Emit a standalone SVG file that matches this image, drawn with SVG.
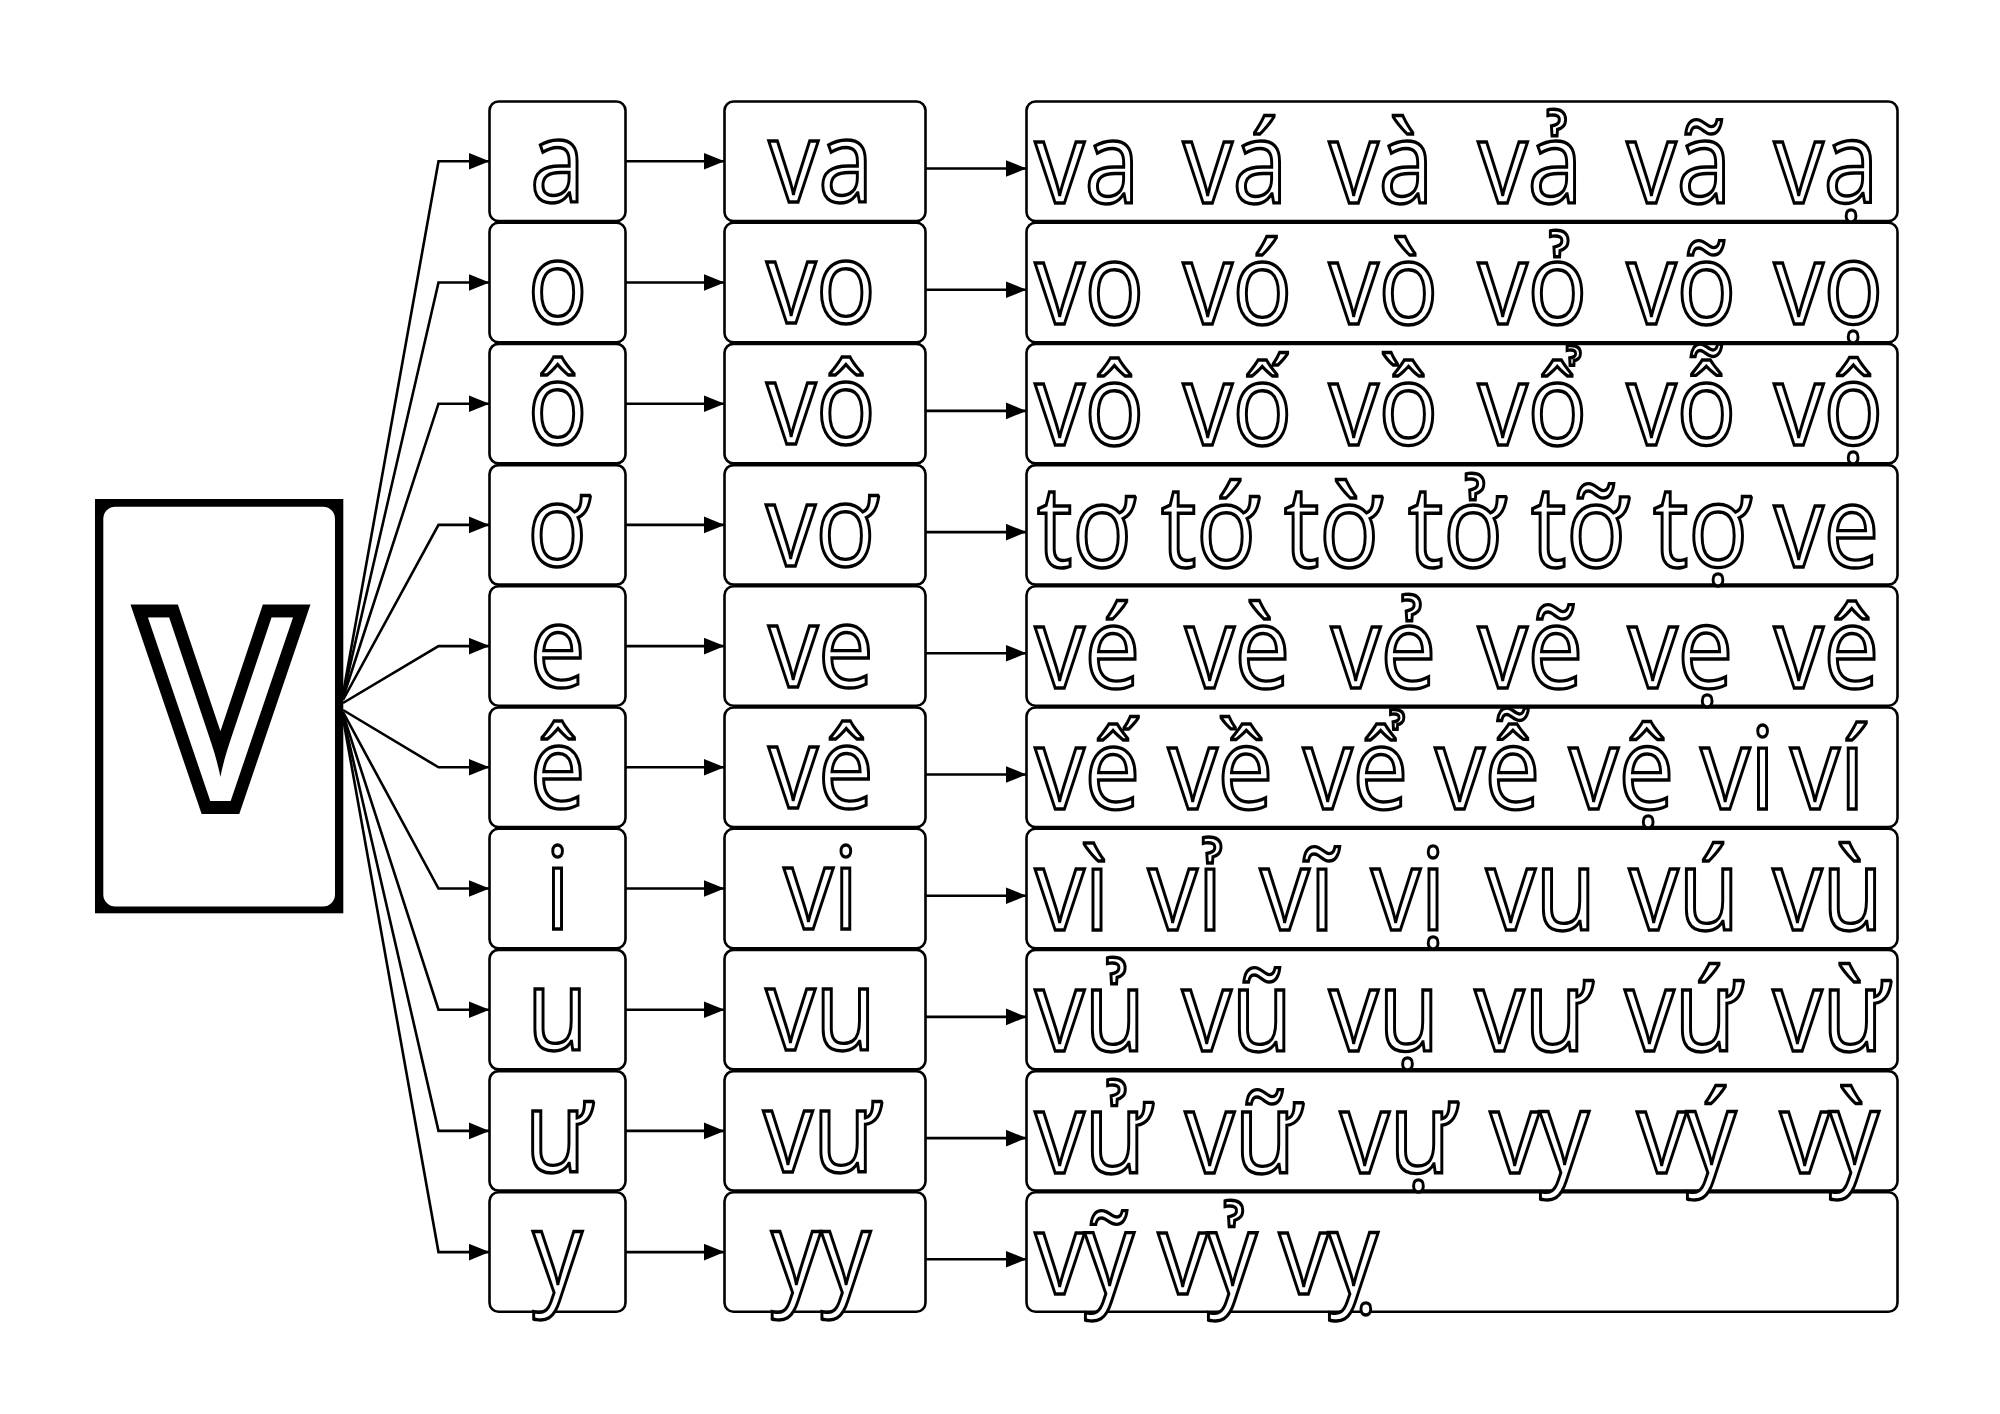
<svg xmlns="http://www.w3.org/2000/svg" width="2000" height="1414" viewBox="0 0 2000 1414">
<style>
.box{fill:#fff;stroke:#000;stroke-width:2.6}
.t{fill:#fff;stroke:#000;stroke-width:3.4;stroke-linejoin:miter;font-family:"Open Sans","Noto Sans",sans-serif;font-size:114px}
.c{text-anchor:middle}
.big{font-size:256px;stroke-width:26px;paint-order:stroke}
.ln{fill:none;stroke:#000;stroke-width:2.6}
</style>
<defs>
<marker id="ah" markerUnits="userSpaceOnUse" markerWidth="22" markerHeight="18" refX="21" refY="8.5" orient="auto" viewBox="0 0 22 18">
<path d="M0,0 L21,8.5 L0,17 Z" fill="#000"/>
</marker>
</defs>
<rect width="2000" height="1414" fill="#fff"/>

<g id="connectors" class="ln" marker-end="url(#ah)">
<path d="M343,694 L438.5,161.3 L489.5,161.3"/>
<path d="M343,696 L438.5,282.5 L489.5,282.5"/>
<path d="M343,698 L438.5,403.7 L489.5,403.7"/>
<path d="M343,700 L438.5,524.9 L489.5,524.9"/>
<path d="M343,703 L438.5,646.1 L489.5,646.1"/>
<path d="M343,710 L438.5,767.3 L489.5,767.3"/>
<path d="M343,712 L438.5,888.5 L489.5,888.5"/>
<path d="M343,714 L438.5,1009.7 L489.5,1009.7"/>
<path d="M343,716 L438.5,1130.9 L489.5,1130.9"/>
<path d="M343,718 L438.5,1252.1 L489.5,1252.1"/>
<path d="M625.5,161.3 L724.5,161.3"/>
<path d="M625.5,282.5 L724.5,282.5"/>
<path d="M625.5,403.7 L724.5,403.7"/>
<path d="M625.5,524.9 L724.5,524.9"/>
<path d="M625.5,646.1 L724.5,646.1"/>
<path d="M625.5,767.3 L724.5,767.3"/>
<path d="M625.5,888.5 L724.5,888.5"/>
<path d="M625.5,1009.7 L724.5,1009.7"/>
<path d="M625.5,1130.9 L724.5,1130.9"/>
<path d="M625.5,1252.1 L724.5,1252.1"/>
<path d="M925.5,168.5 L1026.5,168.5"/>
<path d="M925.5,289.7 L1026.5,289.7"/>
<path d="M925.5,410.9 L1026.5,410.9"/>
<path d="M925.5,532.1 L1026.5,532.1"/>
<path d="M925.5,653.3 L1026.5,653.3"/>
<path d="M925.5,774.5 L1026.5,774.5"/>
<path d="M925.5,895.7 L1026.5,895.7"/>
<path d="M925.5,1016.9 L1026.5,1016.9"/>
<path d="M925.5,1138.1 L1026.5,1138.1"/>
<path d="M925.5,1259.3 L1026.5,1259.3"/>
</g>

<g id="node-V">
<rect x="95" y="499" width="248.3" height="414.3" fill="#000"/>
<rect x="103.3" y="506.8" width="231.7" height="399.7" rx="12" fill="#fff"/>
<text class="t big" x="220.6" y="801" text-anchor="middle" transform="matrix(0.95 0 0 1 11.03 0)">V</text>
</g>

<g id="col1">
<g id="n-a"><rect class="box" x="489.5" y="101.5" width="136" height="119.5" rx="9"/></g>
<g id="n-o"><rect class="box" x="489.5" y="222.7" width="136" height="119.5" rx="9"/></g>
<g id="n-o2"><rect class="box" x="489.5" y="343.9" width="136" height="119.5" rx="9"/></g>
<g id="n-o3"><rect class="box" x="489.5" y="465.1" width="136" height="119.5" rx="9"/></g>
<g id="n-e"><rect class="box" x="489.5" y="586.3" width="136" height="119.5" rx="9"/></g>
<g id="n-e2"><rect class="box" x="489.5" y="707.5" width="136" height="119.5" rx="9"/></g>
<g id="n-i"><rect class="box" x="489.5" y="828.7" width="136" height="119.5" rx="9"/></g>
<g id="n-u"><rect class="box" x="489.5" y="949.9" width="136" height="119.5" rx="9"/></g>
<g id="n-u2"><rect class="box" x="489.5" y="1071.1" width="136" height="119.5" rx="9"/></g>
<g id="n-y"><rect class="box" x="489.5" y="1192.3" width="136" height="119.5" rx="9"/></g>
<g transform="matrix(0.87 0 0 1 72.5 0)">
<text class="t c" x="557.5" y="202">a</text>
<text class="t c" x="557.5" y="323.2">o</text>
<text class="t c" x="557.5" y="444.4">ô</text>
<text class="t c" x="557.5" y="565.6">ơ</text>
<text class="t c" x="557.5" y="686.8">e</text>
<text class="t c" x="557.5" y="808">ê</text>
<text class="t c" x="557.5" y="929.2">i</text>
<text class="t c" x="557.5" y="1050.4">u</text>
<text class="t c" x="557.5" y="1171.6">ư</text>
<text class="t c" x="557.5" y="1292.8">y</text>
</g>
</g>

<g id="col2">
<g id="n-va"><rect class="box" x="724.5" y="101.5" width="201" height="119.5" rx="9"/></g>
<g id="n-vo"><rect class="box" x="724.5" y="222.7" width="201" height="119.5" rx="9"/></g>
<g id="n-vo2"><rect class="box" x="724.5" y="343.9" width="201" height="119.5" rx="9"/></g>
<g id="n-vo3"><rect class="box" x="724.5" y="465.1" width="201" height="119.5" rx="9"/></g>
<g id="n-ve"><rect class="box" x="724.5" y="586.3" width="201" height="119.5" rx="9"/></g>
<g id="n-ve2"><rect class="box" x="724.5" y="707.5" width="201" height="119.5" rx="9"/></g>
<g id="n-vi"><rect class="box" x="724.5" y="828.7" width="201" height="119.5" rx="9"/></g>
<g id="n-vu"><rect class="box" x="724.5" y="949.9" width="201" height="119.5" rx="9"/></g>
<g id="n-vu2"><rect class="box" x="724.5" y="1071.1" width="201" height="119.5" rx="9"/></g>
<g id="n-yy"><rect class="box" x="724.5" y="1192.3" width="201" height="119.5" rx="9"/></g>
<g transform="matrix(0.87 0 0 1 106.73 0)">
<text class="t c" x="821" y="202">va</text>
<text class="t c" x="821" y="323.2">vo</text>
<text class="t c" x="821" y="444.4">vô</text>
<text class="t c" x="821" y="565.6">vơ</text>
<text class="t c" x="821" y="686.8">ve</text>
<text class="t c" x="821" y="808">vê</text>
<text class="t c" x="821" y="929.2">vi</text>
<text class="t c" x="821" y="1050.4">vu</text>
<text class="t c" x="821" y="1171.6">vư</text>
<text class="t c" x="821" y="1292.8">yy</text>
</g>
</g>

<g id="col3">
<g id="r1"><rect class="box" x="1026.5" y="101.5" width="871" height="119.5" rx="9"/></g>
<g id="r2"><rect class="box" x="1026.5" y="222.7" width="871" height="119.5" rx="9"/></g>
<g id="r3"><rect class="box" x="1026.5" y="343.9" width="871" height="119.5" rx="9"/></g>
<g id="r4"><rect class="box" x="1026.5" y="465.1" width="871" height="119.5" rx="9"/></g>
<g id="r5"><rect class="box" x="1026.5" y="586.3" width="871" height="119.5" rx="9"/></g>
<g id="r6"><rect class="box" x="1026.5" y="707.5" width="871" height="119.5" rx="9"/></g>
<g id="r7"><rect class="box" x="1026.5" y="828.7" width="871" height="119.5" rx="9"/></g>
<g id="r8"><rect class="box" x="1026.5" y="949.9" width="871" height="119.5" rx="9"/></g>
<g id="r9"><rect class="box" x="1026.5" y="1071.1" width="871" height="119.5" rx="9"/></g>
<g id="r10"><rect class="box" x="1026.5" y="1192.3" width="871" height="119.5" rx="9"/></g>
<g transform="matrix(0.87 0 0 1 134.55 0)">
<text class="t" y="203"><tspan x="1035">va</tspan> <tspan x="1205.1">vá</tspan> <tspan x="1372.9">và</tspan> <tspan x="1544.1">vả</tspan> <tspan x="1715.3">vã</tspan> <tspan x="1884.3">vạ</tspan></text>
<text class="t" y="324.2"><tspan x="1035">vo</tspan> <tspan x="1205.1">vó</tspan> <tspan x="1372.9">vò</tspan> <tspan x="1544.1">vỏ</tspan> <tspan x="1715.3">võ</tspan> <tspan x="1884.3">vọ</tspan></text>
<text class="t" y="445.4"><tspan x="1035">vô</tspan> <tspan x="1205.1">vố</tspan> <tspan x="1372.9">vồ</tspan> <tspan x="1544.1">vổ</tspan> <tspan x="1715.3">vỗ</tspan> <tspan x="1884.3">vộ</tspan></text>
<text class="t" y="566.6"><tspan x="1037.3">tơ</tspan> <tspan x="1179.8">tớ</tspan> <tspan x="1321.2">tờ</tspan> <tspan x="1463.7">tở</tspan> <tspan x="1605.1">tỡ</tspan> <tspan x="1745.3">tợ</tspan> <tspan x="1884.3">ve</tspan></text>
<text class="t" y="687.8"><tspan x="1035">vé</tspan> <tspan x="1207.4">vè</tspan> <tspan x="1375.2">vẻ</tspan> <tspan x="1544.1">vẽ</tspan> <tspan x="1716.5">vẹ</tspan> <tspan x="1884.3">vê</tspan></text>
<text class="t" y="809"><tspan x="1035">vế</tspan> <tspan x="1187.9">về</tspan> <tspan x="1343.1">vể</tspan> <tspan x="1494.8">vễ</tspan> <tspan x="1648.8">vệ</tspan> <tspan x="1800">vi</tspan> <tspan x="1903">ví</tspan></text>
<text class="t" y="930.2"><tspan x="1035">vì</tspan> <tspan x="1164.9">vỉ</tspan> <tspan x="1293.6">vĩ</tspan> <tspan x="1421.2">vị</tspan> <tspan x="1553.4">vu</tspan> <tspan x="1717.8">vú</tspan> <tspan x="1883.1">vù</tspan></text>
<text class="t" y="1051.4"><tspan x="1035">vủ</tspan> <tspan x="1204">vũ</tspan> <tspan x="1372.9">vụ</tspan> <tspan x="1540.6">vư</tspan> <tspan x="1713">vứ</tspan> <tspan x="1883.1">vừ</tspan></text>
<text class="t" y="1172.6"><tspan x="1035">vử</tspan> <tspan x="1207.4">vữ</tspan> <tspan x="1385.5">vự</tspan> <tspan x="1557.9">vy</tspan> <tspan x="1726.9">vý</tspan> <tspan x="1891.4">vỳ</tspan></text>
<text class="t" y="1293.8"><tspan x="1035">vỹ</tspan> <tspan x="1176.4">vỷ</tspan> <tspan x="1315.5">vỵ</tspan></text>
</g>
</g>
</svg>
